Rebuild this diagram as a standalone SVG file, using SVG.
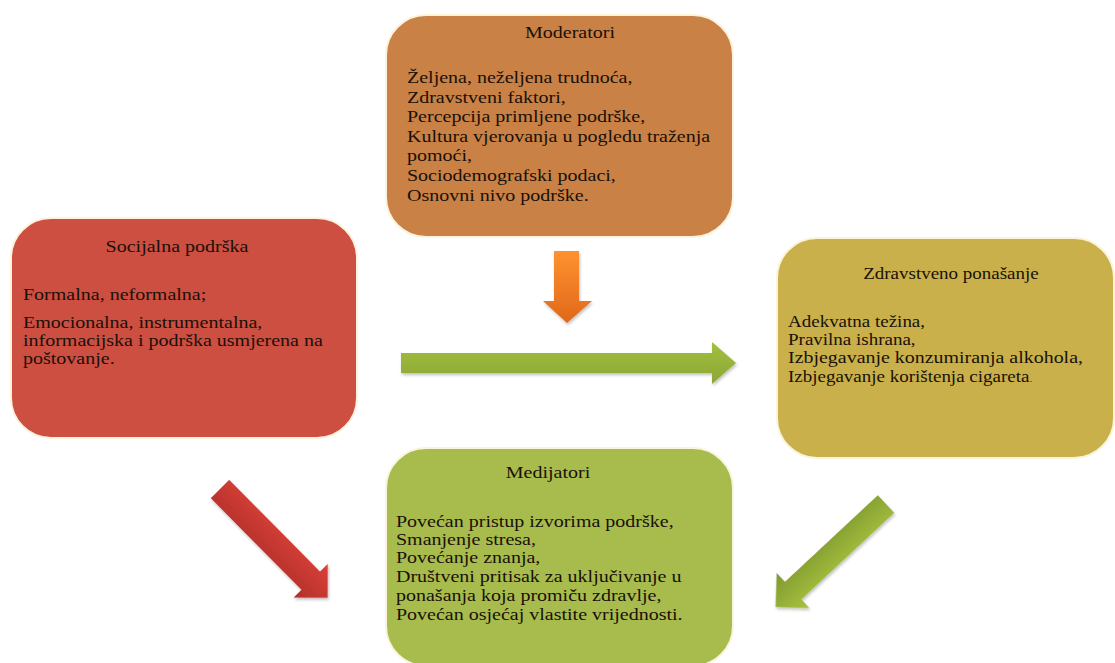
<svg xmlns="http://www.w3.org/2000/svg" width="1115" height="663" viewBox="0 0 1115 663">
<defs>
<style>
.box{stroke:#fbf3dc;stroke-width:2}
.t{font-family:"Liberation Serif","Times New Roman",serif;font-size:16px;fill:#1a1008}
.c{text-anchor:middle}
</style>
<linearGradient id="gOr" x1="0" y1="0" x2="0" y2="1"><stop offset="0" stop-color="#ff9230"/><stop offset="1" stop-color="#e0681a"/></linearGradient>
<linearGradient id="gGh" x1="0" y1="0" x2="0" y2="1"><stop offset="0" stop-color="#a3c03e"/><stop offset="1" stop-color="#8ca636"/></linearGradient>
<linearGradient id="gRd" x1="0" y1="0" x2="0" y2="1"><stop offset="0" stop-color="#dc4038"/><stop offset="1" stop-color="#b0302a"/></linearGradient>
<linearGradient id="gGd" x1="0" y1="0" x2="0" y2="1"><stop offset="0" stop-color="#a8c43e"/><stop offset="1" stop-color="#7f9830"/></linearGradient>
<filter id="sh" x="-20%" y="-20%" width="140%" height="140%"><feDropShadow dx="1" dy="2" stdDeviation="1.5" flood-color="#000" flood-opacity="0.25"/></filter>
</defs>
<rect width="1115" height="663" fill="#ffffff"/>

<g id="moderatori">
<rect class="box" x="386" y="15" width="347" height="222" rx="40" fill="#c98146"/>
<g transform="scale(1.25,1)">
<text class="t c" x="456" y="38">Moderatori</text>
<text class="t" x="325.6" y="83">Željena, neželjena trudnoća,</text>
<text class="t" x="325.6" y="103">Zdravstveni  faktori,</text>
<text class="t" x="325.6" y="122">Percepcija primljene podrške,</text>
<text class="t" x="325.6" y="142">Kultura vjerovanja u pogledu traženja</text>
<text class="t" x="325.6" y="161">pomoći,</text>
<text class="t" x="325.6" y="181">Sociodemografski podaci,</text>
<text class="t" x="325.6" y="201">Osnovni nivo podrške.</text>
</g>
</g>

<g id="socijalna">
<rect class="box" x="11" y="218" width="346" height="220" rx="40" fill="#cd4f42"/>
<g transform="scale(1.25,1)">
<text class="t c" x="141.6" y="252">Socijalna podrška</text>
<text class="t" x="18.4" y="300">Formalna, neformalna;</text>
<text class="t" x="18.4" y="328">Emocionalna, instrumentalna,</text>
<text class="t" x="18.4" y="346">informacijska i podrška usmjerena na</text>
<text class="t" x="18.4" y="364">poštovanje.</text>
</g>
</g>

<g id="zdravstveno">
<rect class="box" x="777" y="238" width="337" height="220" rx="40" fill="#c9b04a"/>
<g transform="scale(1.1875,1)">
<text class="t c" x="800.8" y="279">Zdravstveno ponašanje</text>
<text class="t" x="663.6" y="327">Adekvatna težina,</text>
<text class="t" x="663.6" y="345">Pravilna ishrana,</text>
<text class="t" x="663.6" y="363" textLength="248.4" lengthAdjust="spacingAndGlyphs">Izbjegavanje konzumiranja alkohola,</text>
<text class="t" x="663.6" y="382">Izbjegavanje korištenja cigareta<tspan font-size="9">.</tspan></text>
</g>
</g>

<g id="medijatori">
<rect class="box" x="386" y="448" width="347" height="218" rx="40" fill="#a8bc4e"/>
<g transform="scale(1.25,1)">
<text class="t c" x="438.4" y="478">Medijatori</text>
<text class="t" x="316.8" y="527">Povećan pristup izvorima podrške,</text>
<text class="t" x="316.8" y="545">Smanjenje stresa,</text>
<text class="t" x="316.8" y="563">Povećanje znanja,</text>
<text class="t" x="316.8" y="582">Društveni pritisak za uključivanje u</text>
<text class="t" x="316.8" y="601">ponašanja koja promiču zdravlje,</text>
<text class="t" x="316.8" y="620">Povećan osjećaj vlastite vrijednosti.</text>
</g>
</g>

<g id="connectors" filter="url(#sh)">
<polygon points="554,251 579,251 579,301 592,301 567,323 543,301 554,301" fill="url(#gOr)"/>
<polygon points="401,353 712,353 712,342 736,363 712,384 712,373 401,373" fill="url(#gGh)"/>
<g transform="translate(220,489) rotate(45.3)"><polygon points="0,-13 129,-13 129,-24 153,0 129,24 129,13 0,13" fill="url(#gRd)"/></g>
<g transform="translate(886,504) rotate(137)"><polygon points="0,-12 127,-12 127,-24 151,0 127,24 127,12 0,12" fill="url(#gGd)"/></g>
</g>
</svg>
